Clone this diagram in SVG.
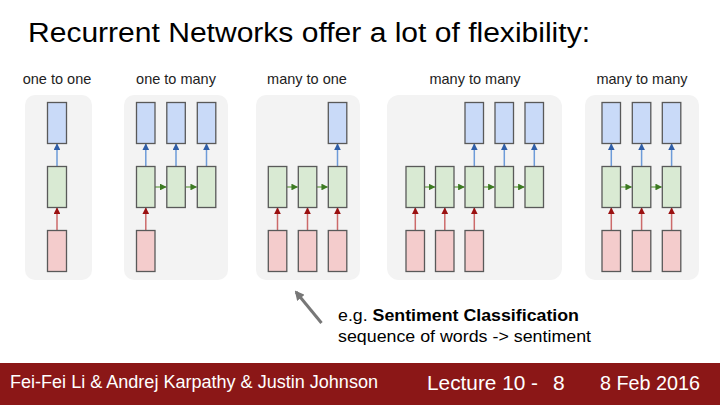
<svg xmlns="http://www.w3.org/2000/svg" width="720" height="405" viewBox="0 0 720 405">
<defs>
<style>
.panel{fill:#f3f3f3;}
.box{stroke:#595959;stroke-width:1.3;}
.o{fill:#c9daf8;}
.h{fill:#d9ead3;}
.i{fill:#f4cccc;}
.lab{font-family:"Liberation Sans",Arial,sans-serif;font-size:14.5px;fill:#222;text-anchor:middle;}
.ua{stroke:#6d9bd8;stroke-width:1.5;fill:none;marker-end:url(#mb);}
.ra{stroke:#cc6a6a;stroke-width:1.5;fill:none;marker-end:url(#mr);}
.ga{stroke:#7fae66;stroke-width:1.5;fill:none;marker-end:url(#mg);}
.ft{font-family:"Liberation Sans Narrow","Liberation Sans",Arial,sans-serif;fill:#fff;}
</style>
<marker id="mb" viewBox="0 0 10 10" refX="9" refY="5" markerWidth="4.5" markerHeight="4.5" orient="auto" markerUnits="strokeWidth"><path d="M0,0 L10,5 L0,10 z" fill="#2f5ea8"/></marker>
<marker id="mr" viewBox="0 0 10 10" refX="9" refY="5" markerWidth="4.5" markerHeight="4.5" orient="auto" markerUnits="strokeWidth"><path d="M0,0 L10,5 L0,10 z" fill="#9a1010"/></marker>
<marker id="mg" viewBox="0 0 10 10" refX="9" refY="5" markerWidth="4.5" markerHeight="4.5" orient="auto" markerUnits="strokeWidth"><path d="M0,0 L10,5 L0,10 z" fill="#3d7a22"/></marker>
<marker id="mp" viewBox="0 0 10 10" refX="8" refY="5" markerWidth="3.2" markerHeight="3.2" orient="auto" markerUnits="strokeWidth"><path d="M0,0 L10,5 L0,10 z" fill="#777"/></marker>
</defs>
<rect width="720" height="405" fill="#fff"/>
<text x="28" y="42" font-family="'Liberation Sans',Arial,sans-serif" font-size="27" fill="#000" textLength="562" lengthAdjust="spacingAndGlyphs">Recurrent Networks offer a lot of flexibility:</text>

<g id="panels">
<rect class="panel" x="25" y="95" width="67" height="185" rx="10"/>
<rect class="panel" x="124" y="95" width="104" height="185" rx="10"/>
<rect class="panel" x="256" y="95" width="104" height="185" rx="10"/>
<rect class="panel" x="387" y="95" width="175" height="185" rx="12"/>
<rect class="panel" x="585" y="95" width="114" height="185" rx="10"/>
</g>
<g id="labels">
<text class="lab" x="57" y="84">one to one</text>
<text class="lab" x="176" y="84">one to many</text>
<text class="lab" x="307" y="84">many to one</text>
<text class="lab" x="475" y="84">many to many</text>
<text class="lab" x="642" y="84">many to many</text>
</g>

<g id="connectors">
<line class="ua" x1="57" y1="166.5" x2="57" y2="144"/>
<line class="ra" x1="57" y1="230.5" x2="57" y2="208"/>
<line class="ua" x1="145.8" y1="166.5" x2="145.8" y2="144"/>
<line class="ua" x1="176" y1="166.5" x2="176" y2="144"/>
<line class="ua" x1="206.5" y1="166.5" x2="206.5" y2="144"/>
<line class="ra" x1="145.8" y1="230.5" x2="145.8" y2="208"/>
<line class="ga" x1="155" y1="187" x2="166" y2="187"/>
<line class="ga" x1="185.5" y1="187" x2="196.5" y2="187"/>
<line class="ua" x1="337.5" y1="166.5" x2="337.5" y2="144"/>
<line class="ra" x1="277.5" y1="230.5" x2="277.5" y2="208"/>
<line class="ra" x1="307.5" y1="230.5" x2="307.5" y2="208"/>
<line class="ra" x1="337.5" y1="230.5" x2="337.5" y2="208"/>
<line class="ga" x1="286.7" y1="187" x2="297.5" y2="187"/>
<line class="ga" x1="316.7" y1="187" x2="327.5" y2="187"/>
<line class="ua" x1="474.3" y1="166.5" x2="474.3" y2="144"/>
<line class="ua" x1="504.3" y1="166.5" x2="504.3" y2="144"/>
<line class="ua" x1="534.3" y1="166.5" x2="534.3" y2="144"/>
<line class="ra" x1="415.3" y1="230.5" x2="415.3" y2="208"/>
<line class="ra" x1="444.8" y1="230.5" x2="444.8" y2="208"/>
<line class="ra" x1="474.3" y1="230.5" x2="474.3" y2="208"/>
<line class="ga" x1="424.5" y1="187" x2="434.7" y2="187"/>
<line class="ga" x1="454" y1="187" x2="464.2" y2="187"/>
<line class="ga" x1="483.6" y1="187" x2="494.2" y2="187"/>
<line class="ga" x1="513.6" y1="187" x2="524.2" y2="187"/>
<line class="ua" x1="611.3" y1="166.5" x2="611.3" y2="144"/>
<line class="ua" x1="641.6" y1="166.5" x2="641.6" y2="144"/>
<line class="ua" x1="671.6" y1="166.5" x2="671.6" y2="144"/>
<line class="ra" x1="611.3" y1="230.5" x2="611.3" y2="208"/>
<line class="ra" x1="641.6" y1="230.5" x2="641.6" y2="208"/>
<line class="ra" x1="671.6" y1="230.5" x2="671.6" y2="208"/>
<line class="ga" x1="620.6" y1="187" x2="631.5" y2="187"/>
<line class="ga" x1="650.9" y1="187" x2="661.5" y2="187"/>
</g>

<g id="p1-nodes">
<rect id="p1o1" class="box o" x="47.5" y="102.5" width="19" height="41"/>
<rect id="p1h1" class="box h" x="47.5" y="166.5" width="19" height="41"/>
<rect id="p1i1" class="box i" x="47.5" y="230.5" width="19" height="41"/>
</g>
<g id="p2-nodes">
<rect id="p2o1" class="box o" x="136.5" y="102.5" width="18.5" height="41"/>
<rect id="p2o2" class="box o" x="166.8" y="102.5" width="18.5" height="41"/>
<rect id="p2o3" class="box o" x="197.3" y="102.5" width="18.5" height="41"/>
<rect id="p2h1" class="box h" x="136.5" y="166.5" width="18.5" height="41"/>
<rect id="p2h2" class="box h" x="166.8" y="166.5" width="18.5" height="41"/>
<rect id="p2h3" class="box h" x="197.3" y="166.5" width="18.5" height="41"/>
<rect id="p2i1" class="box i" x="136.5" y="230.5" width="18.5" height="41"/>
</g>
<g id="p3-nodes">
<rect id="p3o3" class="box o" x="328.3" y="102.5" width="18.5" height="41"/>
<rect id="p3h1" class="box h" x="268.3" y="166.5" width="18.5" height="41"/>
<rect id="p3h2" class="box h" x="298.3" y="166.5" width="18.5" height="41"/>
<rect id="p3h3" class="box h" x="328.3" y="166.5" width="18.5" height="41"/>
<rect id="p3i1" class="box i" x="268.3" y="230.5" width="18.5" height="41"/>
<rect id="p3i2" class="box i" x="298.3" y="230.5" width="18.5" height="41"/>
<rect id="p3i3" class="box i" x="328.3" y="230.5" width="18.5" height="41"/>
</g>
<g id="p4-nodes">
<rect id="p4o3" class="box o" x="465" y="102.5" width="18.5" height="41"/>
<rect id="p4o4" class="box o" x="495" y="102.5" width="18.5" height="41"/>
<rect id="p4o5" class="box o" x="525" y="102.5" width="18.5" height="41"/>
<rect id="p4h1" class="box h" x="406" y="166.5" width="18.5" height="41"/>
<rect id="p4h2" class="box h" x="435.5" y="166.5" width="18.5" height="41"/>
<rect id="p4h3" class="box h" x="465" y="166.5" width="18.5" height="41"/>
<rect id="p4h4" class="box h" x="495" y="166.5" width="18.5" height="41"/>
<rect id="p4h5" class="box h" x="525" y="166.5" width="18.5" height="41"/>
<rect id="p4i1" class="box i" x="406" y="230.5" width="18.5" height="41"/>
<rect id="p4i2" class="box i" x="435.5" y="230.5" width="18.5" height="41"/>
<rect id="p4i3" class="box i" x="465" y="230.5" width="18.5" height="41"/>
</g>
<g id="p5-nodes">
<rect id="p5o1" class="box o" x="602" y="102.5" width="18.5" height="41"/>
<rect id="p5o2" class="box o" x="632.3" y="102.5" width="18.5" height="41"/>
<rect id="p5o3" class="box o" x="662.3" y="102.5" width="18.5" height="41"/>
<rect id="p5h1" class="box h" x="602" y="166.5" width="18.5" height="41"/>
<rect id="p5h2" class="box h" x="632.3" y="166.5" width="18.5" height="41"/>
<rect id="p5h3" class="box h" x="662.3" y="166.5" width="18.5" height="41"/>
<rect id="p5i1" class="box i" x="602" y="230.5" width="18.5" height="41"/>
<rect id="p5i2" class="box i" x="632.3" y="230.5" width="18.5" height="41"/>
<rect id="p5i3" class="box i" x="662.3" y="230.5" width="18.5" height="41"/>
</g>

<g id="pointer">
<line x1="321.5" y1="323" x2="296" y2="292" stroke="#777" stroke-width="3" marker-end="url(#mp)"/>
</g>
<g id="caption" font-family="'Liberation Sans',Arial,sans-serif" font-size="16.5" fill="#000">
<text x="338" y="321" textLength="241" lengthAdjust="spacingAndGlyphs">e.g. <tspan font-weight="bold">Sentiment Classification</tspan></text>
<text x="338" y="342" textLength="253" lengthAdjust="spacingAndGlyphs">sequence of words -&gt; sentiment</text>
</g>

<g id="footer">
<rect x="0" y="363" width="720" height="42" fill="#8b1717"/>
<text class="ft" x="10" y="388" font-size="17.5" textLength="368" lengthAdjust="spacingAndGlyphs">Fei-Fei Li &amp; Andrej Karpathy &amp; Justin Johnson</text>
<text class="ft" x="427" y="390" font-size="21" textLength="111" lengthAdjust="spacingAndGlyphs">Lecture 10 -</text>
<text class="ft" x="553" y="390" font-size="21">8</text>
<text class="ft" x="600" y="390" font-size="21" textLength="100" lengthAdjust="spacingAndGlyphs">8 Feb 2016</text>
</g>
</svg>
